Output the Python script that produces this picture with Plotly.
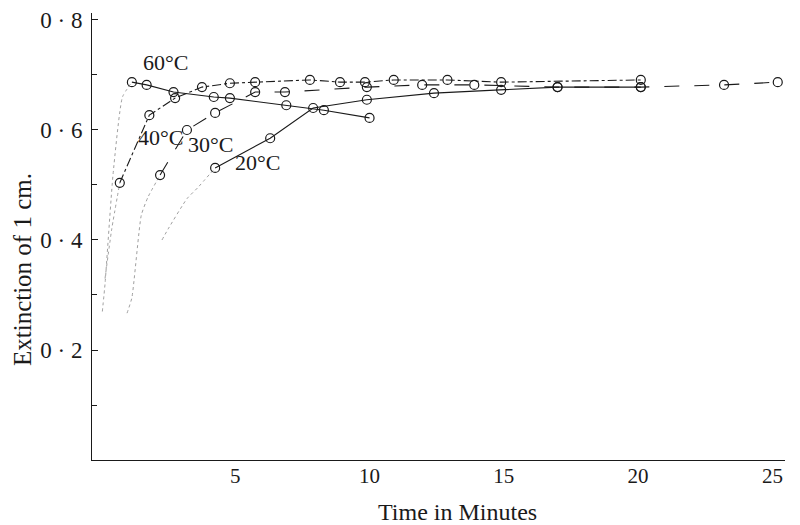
import plotly.graph_objects as go

# ---- data (time in minutes, extinction of 1 cm) ----
t60_rise = [0.05, 0.15, 0.45, 0.8]
v60_rise = [0.27, 0.32, 0.52, 0.66]
t60 = [1.15, 1.7, 2.7, 4.2, 4.8, 6.9, 8.3, 10.0]
v60 = [0.687, 0.682, 0.669, 0.660, 0.658, 0.645, 0.636, 0.622]

t40_rise = [0.15, 0.4]
v40_rise = [0.33, 0.42]
t40 = [0.7, 1.8, 2.76, 3.76, 4.8, 5.74, 7.78, 8.9, 9.83, 10.9, 12.9, 14.9, 20.1]
v40 = [0.504, 0.627, 0.658, 0.678, 0.685, 0.687, 0.691, 0.687, 0.687, 0.691, 0.691, 0.687, 0.691]

t30_rise = [0.97, 1.15, 1.5, 1.75]
v30_rise = [0.267, 0.295, 0.445, 0.478]
t30 = [2.2, 3.2, 4.25, 5.74, 6.85, 9.9, 11.96, 13.9, 17.0, 20.1, 23.2, 25.2]
v30 = [0.518, 0.600, 0.631, 0.669, 0.669, 0.678, 0.682, 0.682, 0.678, 0.678, 0.682, 0.687]

t20_rise = [2.27, 2.5, 3.2, 3.6]
v20_rise = [0.40, 0.42, 0.475, 0.495]
t20 = [4.25, 6.3, 7.9, 9.9, 12.4, 14.9, 17.0, 20.1]
v20 = [0.531, 0.585, 0.640, 0.655, 0.667, 0.673, 0.678, 0.678]

curve_labels = ["60°C", "40°C", "30°C", "20°C"]
label_t = [2.42, 2.2, 4.06, 5.82]
label_v = [0.722, 0.587, 0.574, 0.540]

x_tickvals = [5, 10, 15, 20, 25]
x_ticktext = ["5", "10", "15", "20", "25"]
y_tickvals = [0.2, 0.4, 0.6, 0.8]
y_ticktext = ["0 · 2", "0 · 4", "0 · 6", "0 · 8"]
y_minorvals = [0.1, 0.3, 0.5, 0.7]

x_title = "Time in Minutes"
y_title = "Extinction of 1 cm."

FONT = "Liberation Serif"
INK = "#1a1a1a"

fig = go.Figure()

series = [
    (t60_rise, v60_rise, t60, v60, "solid"),
    (t40_rise, v40_rise, t40, v40, "dashdot"),
    (t30_rise, v30_rise, t30, v30, "longdash"),
    (t20_rise, v20_rise, t20, v20, "solid"),
]

for tr, vr, tm, vm, dash in series:
    fig.add_trace(go.Scatter(
        x=tr + tm[:1], y=vr + vm[:1], mode="lines",
        line=dict(color="#a0a0a0", width=1, dash="dot", shape="spline", smoothing=0.5),
        showlegend=False, hoverinfo="skip"))
    fig.add_trace(go.Scatter(
        x=tm, y=vm, mode="lines+markers",
        line=dict(color=INK, width=1.1, dash=dash),
        marker=dict(symbol="circle-open", size=9, color=INK, line=dict(width=1.2)),
        showlegend=False))

for txt, lt, lv in zip(curve_labels, label_t, label_v):
    fig.add_annotation(x=lt, y=lv, text=txt, showarrow=False,
                       font=dict(family=FONT, size=22, color=INK))

# axis titles placed as paper annotations
fig.add_annotation(xref="paper", yref="paper", x=0.528, y=-0.116, text=x_title,
                   showarrow=False, xanchor="center", yanchor="middle",
                   font=dict(family=FONT, size=24, color=INK))
fig.add_annotation(xref="paper", yref="paper", x=-0.101, y=0.425, text=y_title,
                   showarrow=False, xanchor="center", yanchor="middle", textangle=-90,
                   font=dict(family=FONT, size=25, color=INK))

fig.update_layout(
    width=792, height=517,
    margin=dict(l=84, r=15, t=5, b=65),
    paper_bgcolor="white", plot_bgcolor="white",
    font=dict(family=FONT, color=INK),
    xaxis=dict(range=[-0.335, 25.47], showline=True, linecolor=INK, linewidth=1,
               showgrid=False, zeroline=False, ticks="", automargin=False,
               tickvals=x_tickvals, ticktext=x_ticktext,
               tickfont=dict(family=FONT, size=21, color=INK),
               ticklabelstandoff=-3),
    yaxis=dict(range=[0, 0.8127], showline=True, linecolor=INK, linewidth=1,
               showgrid=False, zeroline=False, ticks="inside", ticklen=6, tickcolor=INK,
               automargin=False,
               tickvals=y_tickvals, ticktext=y_ticktext,
               tickfont=dict(family=FONT, size=23, color=INK),
               ticklabelstandoff=4,
               minor=dict(tickvals=y_minorvals, ticks="inside", ticklen=5, tickcolor=INK)),
)

fig.write_html("out.html")
